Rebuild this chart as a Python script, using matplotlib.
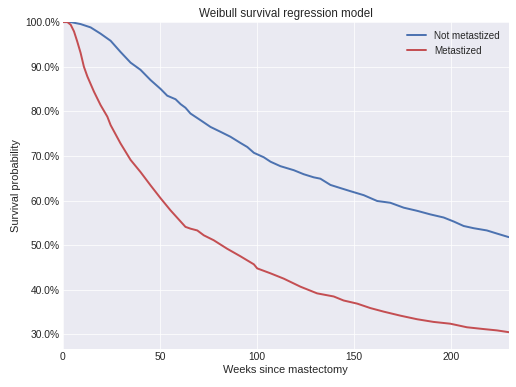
import matplotlib
matplotlib.use("Agg")
import matplotlib.pyplot as plt
from matplotlib.ticker import PercentFormatter

plt.style.use("seaborn-v0_8-darkgrid")
plt.rcParams['font.family'] = ['Liberation Sans', 'DejaVu Sans']
plt.rcParams['xtick.labelsize'] = 11.5
plt.rcParams['ytick.labelsize'] = 11.5
plt.rcParams['axes.labelsize'] = 12.3
plt.rcParams['axes.titlesize'] = 13
plt.rcParams['legend.fontsize'] = 11

# weeks and posterior survival
weeks_not = [0, 3.9, 9.1, 14.3, 19.4, 24.6, 29.7, 34.9, 40, 45.2, 50.4, 53.8, 58.1,
             60.7, 63.2, 65.8, 71, 76.1, 81.3, 86.4, 91.6, 95.1, 98.5, 103.6, 107.1,
             112.2, 119.1, 124.2, 129.4, 132.8, 138, 143.1, 148.3, 155.2, 162.1,
             168.9, 175.8, 182.7, 189.5, 196.4, 201.6, 206.7, 211.9, 218.7, 223.9, 230]
surv_not = [1.0, 1.0, 0.9955, 0.988, 0.974, 0.958, 0.933, 0.909, 0.893, 0.870, 0.850,
            0.835, 0.827, 0.816, 0.808, 0.795, 0.780, 0.765, 0.754, 0.743, 0.729, 0.720,
            0.707, 0.697, 0.687, 0.677, 0.668, 0.659, 0.652, 0.649, 0.635, 0.628, 0.621,
            0.612, 0.599, 0.595, 0.584, 0.577, 0.569, 0.562, 0.553, 0.543, 0.538, 0.533,
            0.526, 0.518]

weeks_met = [0, 2.3, 4, 5.7, 7.4, 9.1, 10.8, 12.6, 16, 19.4, 22.9, 24.6, 29.7, 34.9,
             40, 45.2, 50.4, 55.5, 60.7, 63.2, 65.8, 69.3, 72.7, 77.8, 84.7, 91.6,
             98.5, 100.2, 107, 113.9, 122.5, 131.1, 139.7, 144.8, 151.8, 158.6, 165.5,
             174.1, 182.7, 191.2, 199.8, 208.4, 217, 223.9, 230]
surv_met = [1.0, 1.0, 0.994, 0.979, 0.956, 0.931, 0.900, 0.878, 0.844, 0.814, 0.788,
            0.769, 0.728, 0.691, 0.664, 0.634, 0.605, 0.578, 0.553, 0.541, 0.537, 0.533,
            0.522, 0.511, 0.492, 0.475, 0.457, 0.448, 0.437, 0.425, 0.407, 0.392, 0.385,
            0.376, 0.369, 0.359, 0.351, 0.342, 0.334, 0.328, 0.324, 0.316, 0.312, 0.309,
            0.305]

fig, ax = plt.subplots(figsize=(8, 6), dpi=64.5)
fig.subplots_adjust(left=0.122, right=0.986, top=0.943, bottom=0.099)

ax.plot(weeks_not, surv_not, color="#4C72B0", lw=2.2, label="Not metastized")
ax.plot(weeks_met, surv_met, color="#C44E52", lw=2.2, label="Metastized")

ax.set_xlim(0, 230)
ax.set_ylim(0.268, 1.0)
ax.yaxis.set_major_formatter(PercentFormatter(1.0, decimals=1))
ax.set_xlabel("Weeks since mastectomy")
ax.set_ylabel("Survival probability")
ax.set_title("Weibull survival regression model")
ax.legend(loc="upper right")

fig.savefig("out.png", dpi=64.5)
